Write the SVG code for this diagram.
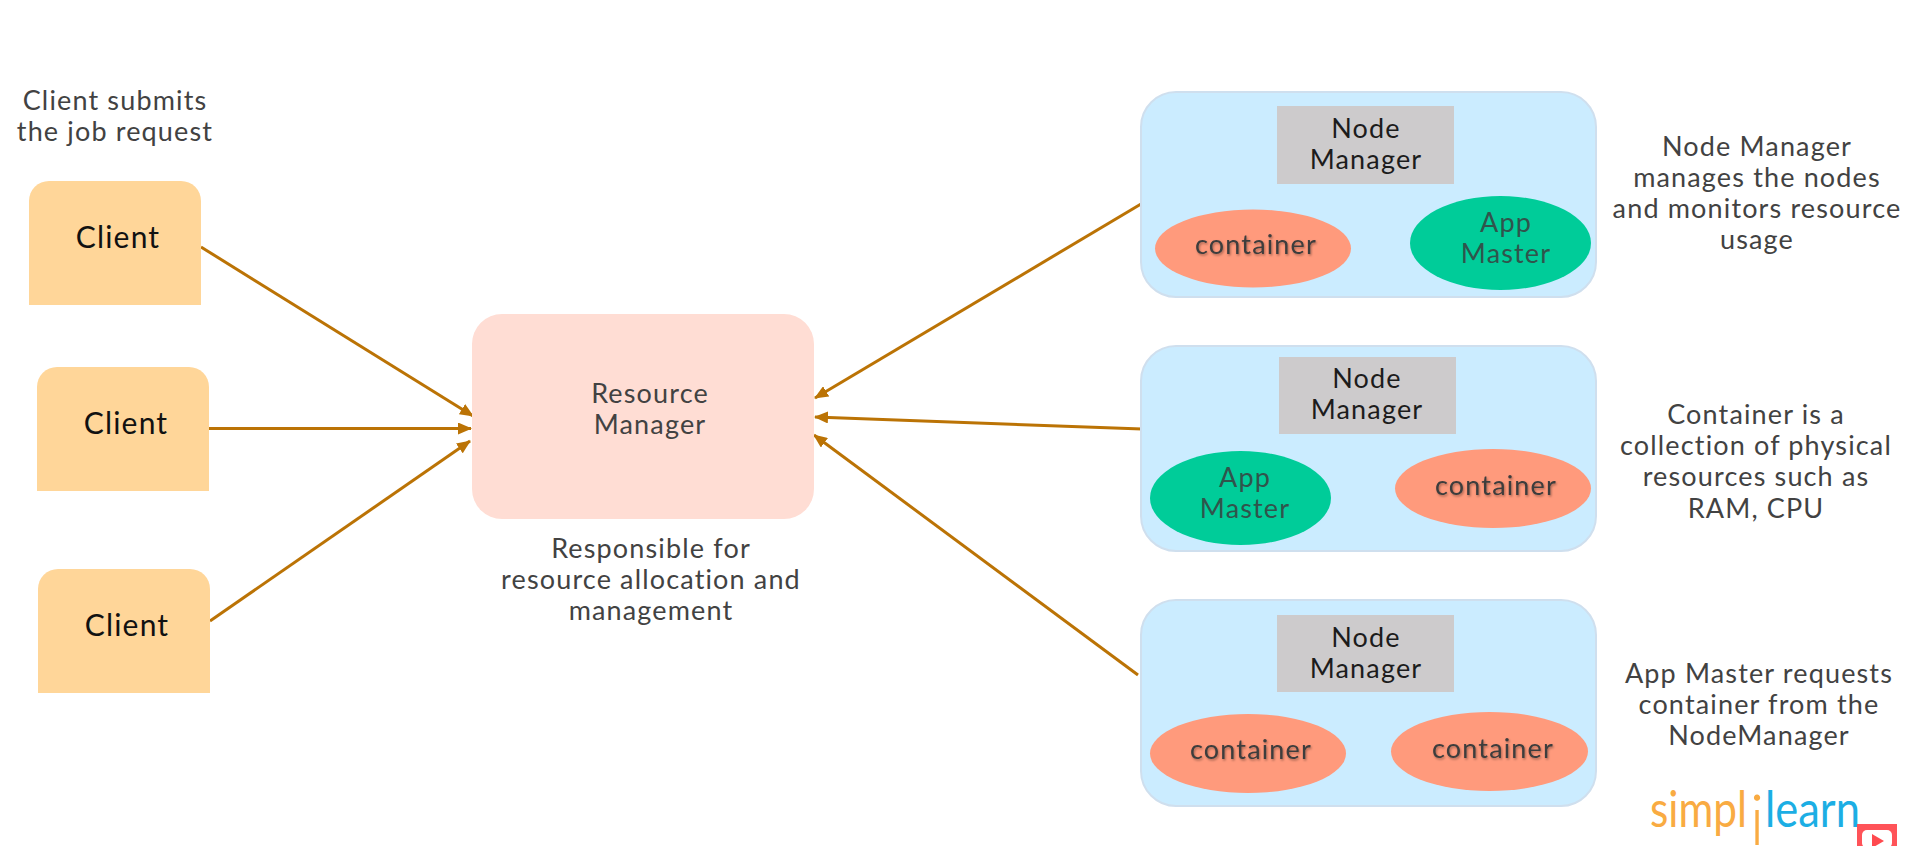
<svg xmlns="http://www.w3.org/2000/svg" width="1920" height="846" viewBox="0 0 1920 846">
<style>
text{font-family:"Lato","Open Sans",sans-serif;font-size:27px;text-anchor:middle;fill:#424242;letter-spacing:1.15px}
.d{fill:#1c1c1c}
.cl{fill:#111;font-size:30px;letter-spacing:1.2px}
.client{fill:#ffd699}
.rm{fill:#ffddd4}
.nm{fill:#cbecff;stroke:#cfdfee;stroke-width:2}
.gr{fill:#cdcbcc}
.co{fill:#ff9a7c}
.ap{fill:#00cc99}
.ct{filter:url(#s);fill:#3c3c3c}
.at{fill:#30544c}
.c{stroke:#bb7305;stroke-width:3;fill:none;marker-end:url(#a)}
.lg{font-size:50px;text-anchor:start;letter-spacing:0}
</style>
<defs>
<marker id="a" markerUnits="userSpaceOnUse" markerWidth="14" markerHeight="12" refX="13" refY="6" orient="auto"><path d="M0 0L14 6L0 12Z" fill="#bb7305"/></marker>
<filter id="s" x="-10%" y="-20%" width="120%" height="150%"><feDropShadow dx="1" dy="1.500" stdDeviation="1" flood-color="#000" flood-opacity=".35"/></filter>
</defs>
<rect width="1920" height="846" fill="#fff"/>
<g id="connectors">
<line class="c" x1="201" y1="247" x2="473" y2="416"/>
<line class="c" x1="209" y1="428.500" x2="471" y2="428.500"/>
<line class="c" x1="210" y1="621" x2="470" y2="441"/>
<line class="c" x1="1141" y1="204" x2="815" y2="398"/>
<line class="c" x1="1142" y1="429" x2="815" y2="417"/>
<line class="c" x1="1138" y1="675" x2="814" y2="435"/>
</g>
<g id="note-client"><text x="115" y="110">Client submits</text><text x="115" y="141">the job request</text></g>
<g id="client1"><path class="client" d="M29 305V201a20 20 0 0 1 20-20H181a20 20 0 0 1 20 20V305Z"/><text class="cl" x="118" y="248">Client</text></g>
<g id="client2"><path class="client" d="M37 491V387a20 20 0 0 1 20-20H189a20 20 0 0 1 20 20V491Z"/><text class="cl" x="126" y="434">Client</text></g>
<g id="client3"><path class="client" d="M38 693V589a20 20 0 0 1 20-20H190a20 20 0 0 1 20 20V693Z"/><text class="cl" x="127" y="636">Client</text></g>
<g id="resource-manager"><rect class="rm" x="472" y="314" width="342" height="205" rx="30"/><text x="650" y="403">Resource</text><text x="650" y="434">Manager</text></g>
<g id="note-rm"><text x="651" y="558">Responsible for</text><text x="651" y="589">resource allocation and</text><text x="651" y="620">management</text></g>
<g id="node1"><rect class="nm" x="1141" y="92" width="455" height="205" rx="35"/><rect class="gr" x="1277" y="106" width="177" height="78"/><text class="d" x="1366" y="138">Node</text><text class="d" x="1366" y="169">Manager</text>
<ellipse class="co" cx="1253" cy="248.500" rx="98" ry="39"/><text class="ct" x="1256" y="254">container</text>
<ellipse class="ap" cx="1500.500" cy="243" rx="90.500" ry="47"/><text class="at" x="1506" y="232">App</text><text class="at" x="1506" y="263">Master</text></g>
<g id="node2"><rect class="nm" x="1141" y="346" width="455" height="205" rx="35"/><rect class="gr" x="1279" y="357" width="177" height="77"/><text class="d" x="1367" y="388">Node</text><text class="d" x="1367" y="419">Manager</text>
<ellipse class="ap" cx="1240.500" cy="498" rx="90.500" ry="47"/><text class="at" x="1245" y="487">App</text><text class="at" x="1245" y="518">Master</text>
<ellipse class="co" cx="1493" cy="488.500" rx="98" ry="39.500"/><text class="ct" x="1496" y="495">container</text></g>
<g id="node3"><rect class="nm" x="1141" y="600" width="455" height="206" rx="35"/><rect class="gr" x="1277" y="615" width="177" height="77"/><text class="d" x="1366" y="647">Node</text><text class="d" x="1366" y="678">Manager</text>
<ellipse class="co" cx="1248" cy="753.500" rx="98" ry="39.500"/><text class="ct" x="1251" y="759">container</text>
<ellipse class="co" cx="1489.500" cy="751.500" rx="98.500" ry="39.500"/><text class="ct" x="1493" y="758">container</text></g>
<g id="note-node"><text x="1757" y="156">Node Manager</text><text x="1757" y="187">manages the nodes</text><text x="1757" y="218">and monitors resource</text><text x="1757" y="249">usage</text></g>
<g id="note-container"><text x="1756" y="424">Container is a</text><text x="1756" y="455">collection of physical</text><text x="1756" y="486">resources such as</text><text x="1756" y="518">RAM, CPU</text></g>
<g id="note-app"><text x="1759" y="683">App Master requests</text><text x="1759" y="714">container from the</text><text x="1759" y="745">NodeManager</text></g>
<g id="logo"><text class="lg" x="1650" y="827" fill="#f9ab42" style="fill:#f9ab42" textLength="97" lengthAdjust="spacingAndGlyphs">simpl</text><text x="1757" y="845" style="font-size:70px;font-weight:300;fill:#f9ab42;letter-spacing:0">i</text><text class="lg" x="1765" y="827" style="fill:#1caee4" textLength="95" lengthAdjust="spacingAndGlyphs">learn</text>
<rect x="1857" y="824" width="40" height="22" fill="#ff4a4f" fill-opacity=".95"/><rect x="1862" y="830" width="30" height="18" rx="5" fill="#fff"/><path d="M1872 834L1884 841L1872 848Z" fill="#ff4a4f"/></g>
</svg>
